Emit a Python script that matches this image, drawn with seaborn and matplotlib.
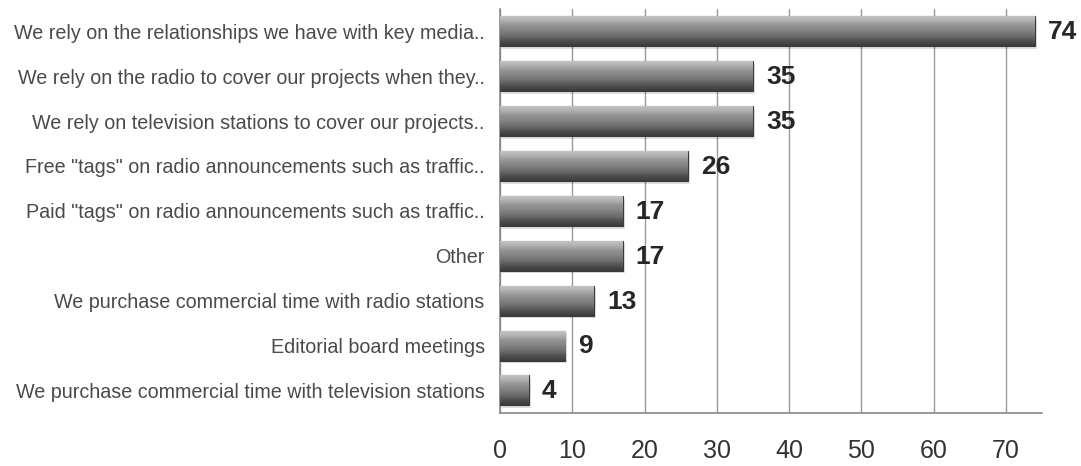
import numpy as np
import pandas as pd
import matplotlib
matplotlib.use("Agg")
import matplotlib.pyplot as plt
import seaborn as sns
from matplotlib.colors import LinearSegmentedColormap

categories = [
    'We rely on the relationships we have with key media..',
    'We rely on the radio to cover our projects when they..',
    'We rely on television stations to cover our projects..',
    'Free "tags" on radio announcements such as traffic..',
    'Paid "tags" on radio announcements such as traffic..',
    'Other',
    'We purchase commercial time with radio stations',
    'Editorial board meetings',
    'We purchase commercial time with television stations',
]
values = [74, 35, 35, 26, 17, 17, 13, 9, 4]
xticks = [0, 10, 20, 30, 40, 50, 60, 70]

df = pd.DataFrame({"cat": categories, "val": values})

sns.set_theme(style="white")
plt.rcParams['font.family'] = ['Liberation Sans', 'DejaVu Sans']

fig = plt.figure(figsize=(10.81, 4.66), dpi=100)
ax = fig.add_axes([0.4625, 0.114, 0.964 - 0.4625, 0.981 - 0.114])

sns.barplot(data=df, x="val", y="cat", orient="h", color="#808080",
            width=0.67, ax=ax, zorder=3)

cmap = LinearSegmentedColormap.from_list(
    "bar", ["#c8c8c8", "#b2b2b2", "#939393", "#838383", "#6e6e6e", "#505050", "#3a3a3a"])
grad = np.linspace(0, 1, 256).reshape(-1, 1)
for p in ax.patches:
    x0, y0 = p.get_x(), p.get_y()
    w, h = p.get_width(), p.get_height()
    ax.add_patch(plt.Rectangle((x0 + 0.3, y0 + 0.06), w, h, facecolor="#000000",
                               alpha=0.12, edgecolor="none", zorder=2))
    im = ax.imshow(grad, cmap=cmap, aspect="auto",
                   extent=[x0, x0 + w, y0 + h, y0], zorder=4)
    im.set_clip_path(p)
    p.set_edgecolor("#3a3a3a")
    p.set_linewidth(0.8)
    ax.text(x0 + w + 1.8, y0 + h / 2 + 0.02, f"{int(w)}", va="center", ha="left",
            fontsize=19, fontweight="bold", color="#262626", zorder=5)
ax.set_ylim(len(categories) - 0.5, -0.5)
ax.set_xlim(0, 75)

ax.set_xticks(xticks)
ax.set_xticklabels([str(t) for t in xticks], fontsize=18, color="#333333")
ax.tick_params(axis="x", length=6, width=1, color="#888888", direction="out", pad=13)
ax.tick_params(axis="y", length=0, pad=11, labelsize=14.2, labelcolor="#4a4a4a")
ax.set_yticks(np.arange(len(categories) + 1) - 0.5, minor=True)
ax.tick_params(axis="y", which="minor", length=5, color="#888888")
ax.xaxis.grid(True, color="#999999", linewidth=1, zorder=0)
ax.set_axisbelow(True)
ax.set_xlabel("")
ax.set_ylabel("")

for s in ["top", "right"]:
    ax.spines[s].set_visible(False)
for s in ["left", "bottom"]:
    ax.spines[s].set_color("#888888")
    ax.spines[s].set_linewidth(1.2)

fig.savefig("out.png", dpi=100, facecolor="white")
